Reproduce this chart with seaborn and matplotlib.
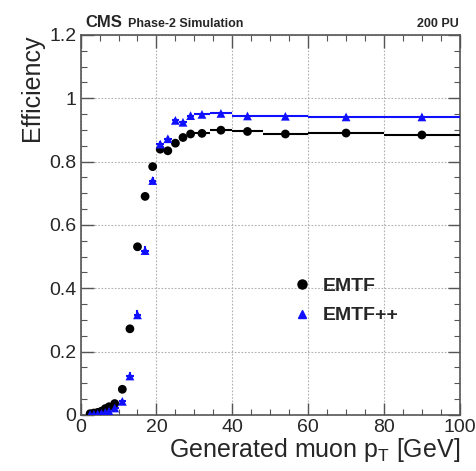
import numpy as np
import pandas as pd
import matplotlib
matplotlib.use("Agg")
import matplotlib.pyplot as plt
from matplotlib.ticker import MultipleLocator
from matplotlib.lines import Line2D
import seaborn as sns

# ---- data ----
pt_center = [2.5, 3.5, 4.5, 5.5, 6.5, 7.5, 9, 11, 13, 15, 17, 19, 21, 23, 25, 27, 29,
             32, 37, 44, 54, 70, 90]
pt_halfwidth = [0.5, 0.5, 0.5, 0.5, 0.5, 0.5, 1, 1, 1, 1, 1, 1, 1, 1, 1, 1, 1,
                2, 3, 4, 6, 10, 10]
eff_emtf = [0.004, 0.006, 0.008, 0.012, 0.020, 0.026, 0.036, 0.081, 0.272, 0.531, 0.690,
            0.784, 0.839, 0.834, 0.858, 0.876, 0.887, 0.889, 0.899, 0.895, 0.887, 0.890, 0.884]
err_emtf = [0.003, 0.003, 0.003, 0.004, 0.005, 0.005, 0.005, 0.008, 0.012, 0.013, 0.012,
            0.010, 0.009, 0.009, 0.008, 0.008, 0.007, 0.006, 0.005, 0.005, 0.004, 0.004, 0.004]
eff_emtfpp = [0.001, 0.002, 0.003, 0.005, 0.008, 0.012, 0.022, 0.043, 0.123, 0.316, 0.519,
              0.740, 0.855, 0.872, 0.930, 0.924, 0.945, 0.949, 0.952, 0.944, 0.943, 0.941, 0.941]
err_emtfpp = [0.002, 0.002, 0.002, 0.003, 0.004, 0.004, 0.005, 0.008, 0.012, 0.014, 0.013,
              0.011, 0.009, 0.008, 0.007, 0.006, 0.005, 0.005, 0.004, 0.004, 0.003, 0.003, 0.003]
series_names = ["EMTF", "EMTF++"]

df = pd.DataFrame({
    "pt": pt_center * 2,
    "xerr": pt_halfwidth * 2,
    "eff": eff_emtf + eff_emtfpp,
    "yerr": err_emtf + err_emtfpp,
    "algo": [series_names[0]] * len(pt_center) + [series_names[1]] * len(pt_center),
})

sns.set_theme(style="ticks")
plt.rcParams["font.family"] = ["Liberation Sans", "DejaVu Sans"]

fig = plt.figure(figsize=(4.77, 4.71), dpi=100)
ax = fig.add_axes([0.169, 0.119, 0.795, 0.807])

colors = {"EMTF": "black", "EMTF++": "#1010ff"}
markers = {"EMTF": "o", "EMTF++": "^"}

for name in series_names:
    sub = df[df.algo == name]
    ax.errorbar(sub.pt, sub.eff, xerr=sub.xerr, yerr=sub.yerr, fmt="none",
                ecolor=colors[name], elinewidth=1.5, capsize=0, zorder=3)

sns.scatterplot(data=df, x="pt", y="eff", hue="algo", style="algo",
                palette=colors, markers=markers, s=40, edgecolor="none",
                ax=ax, zorder=4, legend=False)

ax.set_xlim(0, 100)
ax.set_ylim(0, 1.2)
ax.xaxis.set_minor_locator(MultipleLocator(5))
ax.yaxis.set_minor_locator(MultipleLocator(0.05))
ax.set_xticks([0, 20, 40, 60, 80, 100])
ax.set_xticklabels(["0", "20", "40", "60", "80", "100"])
ax.set_yticks([0, 0.2, 0.4, 0.6, 0.8, 1.0, 1.2])
ax.set_yticklabels(["0", "0.2", "0.4", "0.6", "0.8", "1", "1.2"])
ax.tick_params(which="both", direction="in", top=True, right=True, color="#555555")
ax.tick_params(which="major", length=9, width=1.0, labelsize=14, pad=3)
ax.tick_params(which="minor", length=4.5, width=0.8)
ax.grid(True, which="major", linestyle=(0, (1.5, 1.5)), color="#b0b0b0", linewidth=0.8)
for s in ax.spines.values():
    s.set_color("#555555")
    s.set_linewidth(1.2)

ax.set_xlabel("Generated muon p$_{\\mathregular{T}}$ [GeV]", fontsize=18, loc="right", labelpad=0)
ax.set_ylabel("Efficiency", fontsize=18, loc="top", labelpad=4)

fig.text(0.180, 0.943, "CMS", fontsize=12, fontweight="bold", ha="left", va="baseline")
fig.text(0.268, 0.943, "Phase-2 Simulation", fontsize=9, fontweight="bold", ha="left", va="baseline")
fig.text(0.962, 0.943, "200 PU", fontsize=9, fontweight="bold", ha="right", va="baseline")

handles = [Line2D([], [], linestyle="none", marker=markers["EMTF"], color=colors["EMTF"], markersize=6.5),
           Line2D([], [], linestyle="none", marker=markers["EMTF++"], color=colors["EMTF++"], markersize=5.5)]
ax.legend(handles, series_names, loc="center left", bbox_to_anchor=(0.50, 0.30),
          frameon=False, prop={"size": 14, "weight": "bold"}, handletextpad=0.3,
          labelspacing=0.6, handlelength=1.5)

fig.savefig("out.png", dpi=100)
